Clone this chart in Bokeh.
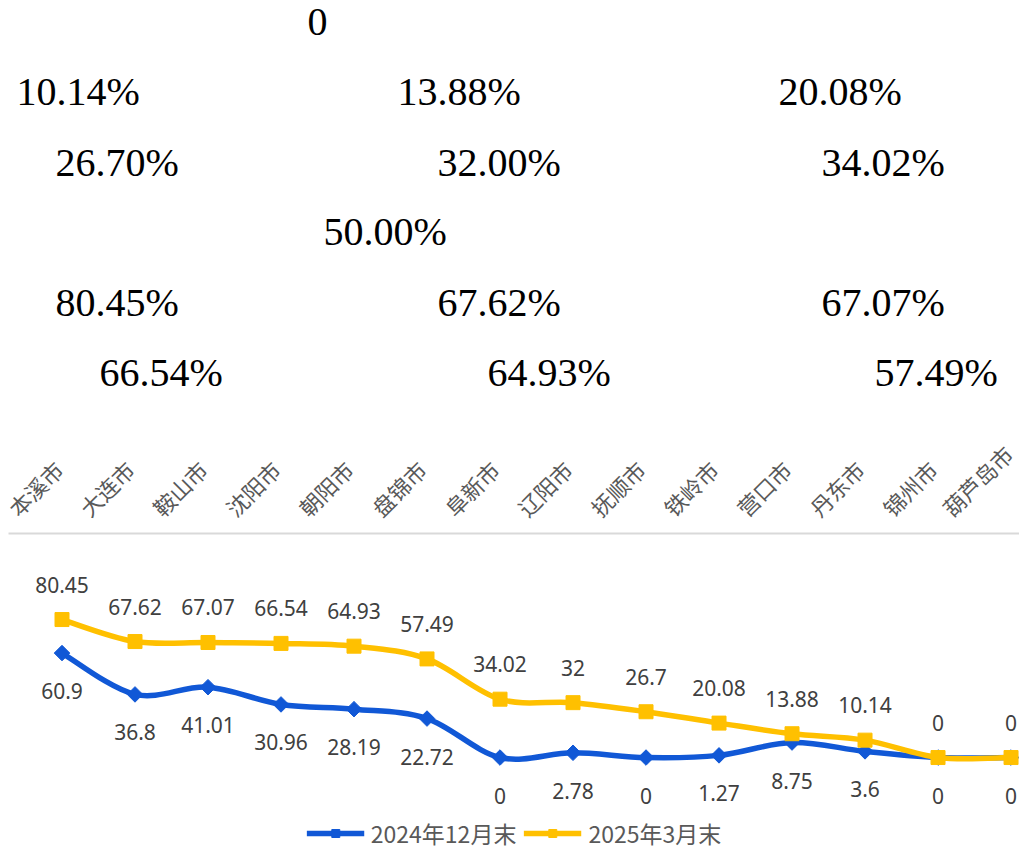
import math
from bokeh.plotting import figure
from bokeh.layouts import column
from bokeh.models import Range1d, FixedTicker, LinearAxis, Legend, LegendItem
from bokeh.core.properties import value
from bokeh.embed import file_html
from bokeh.resources import INLINE

# ---------------- data ----------------
cities = ["本溪市", "大连市", "鞍山市", "沈阳市", "朝阳市", "盘锦市", "阜新市",
          "辽阳市", "抚顺市", "铁岭市", "营口市", "丹东市", "锦州市", "葫芦岛市"]
dec2024 = [60.9, 36.8, 41.01, 30.96, 28.19, 22.72, 0, 2.78, 0, 1.27, 8.75, 3.6, 0, 0]
mar2025 = [80.45, 67.62, 67.07, 66.54, 64.93, 57.49, 34.02, 32, 26.7, 20.08, 13.88, 10.14, 0, 0]
series_names = ["2024年12月末", "2025年3月末"]
stray_texts = ["0", "10.14%", "13.88%", "20.08%", "26.70%", "32.00%", "34.02%",
               "50.00%", "80.45%", "67.62%", "67.07%", "66.54%", "64.93%", "57.49%"]

# ---------------- layout (pixels) ----------------
stray_x = [307, 16, 397, 778, 55, 437, 821, 323, 55, 437, 821, 99, 487, 874]
stray_y = [34, 104, 104, 104, 175, 175, 175, 244, 315, 315, 315, 385, 385, 385]

W = 1019
TOP_H = 420
BOT_H = 435
BLUE = "#1158d6"
GOLD = "#ffc000"
TXT = "#404040"

idx = list(range(len(cities)))

# ---------- top block: stray percentage texts ----------
top = figure(width=W, height=TOP_H, output_backend="svg", toolbar_location=None,
             x_range=Range1d(8, W), y_range=Range1d(TOP_H, 0),
             min_border=0, min_border_left=8, x_axis_location=None, y_axis_location=None)
top.grid.visible = False
top.outline_line_color = None
top.text(stray_x, stray_y, text=stray_texts, text_align="left", text_baseline="alphabetic",
         y_offset=-13, text_font=value("Liberation Serif"), text_font_size="40px",
         text_color="black")

# ---------- chart ----------
p = figure(width=W, height=BOT_H, output_backend="svg", toolbar_location=None,
           x_range=Range1d(-0.7329, 13.116), y_range=Range1d(-57.1, 130.6),
           min_border_left=8, min_border_right=0, min_border_top=113, min_border_bottom=0,
           x_axis_location=None, y_axis_location=None)
p.grid.visible = False
p.outline_line_color = None

shift = 0.71
p.extra_x_ranges = {"lab": Range1d(-0.7329 + shift, 13.116 + shift)}
ax = LinearAxis(x_range_name="lab", ticker=FixedTicker(ticks=idx),
                major_label_overrides={i: c for i, c in enumerate(cities)},
                major_label_orientation=math.pi / 4,
                major_tick_line_color=None, minor_tick_line_color=None,
                major_tick_out=0, major_tick_in=0, major_label_standoff=22,
                axis_line_color="#d9d9d9", axis_line_width=2,
                major_label_text_font="Noto Sans CJK SC",
                major_label_text_font_size="22px",
                major_label_text_color="#595959")
p.add_layout(ax, "above")


def bez(vals):
    n = len(vals)
    out = {k: [] for k in ("x0", "y0", "x1", "y1", "cx0", "cy0", "cx1", "cy1")}
    for i in range(n - 1):
        im1 = max(i - 1, 0)
        ip2 = min(i + 2, n - 1)
        out["x0"].append(i); out["y0"].append(vals[i])
        out["x1"].append(i + 1); out["y1"].append(vals[i + 1])
        out["cx0"].append(i + (i + 1 - im1) / 6.0)
        out["cy0"].append(vals[i] + (vals[i + 1] - vals[im1]) / 6.0)
        out["cx1"].append(i + 1 - (ip2 - i) / 6.0)
        out["cy1"].append(vals[i + 1] - (vals[ip2] - vals[i]) / 6.0)
    return out


b_line = p.bezier(line_color=BLUE, line_width=5.5, **bez(dec2024))
b_mark = p.scatter(idx, dec2024, marker="square", angle=math.pi / 4, size=11,
                   fill_color=BLUE, line_color=BLUE)
g_line = p.bezier(line_color=GOLD, line_width=5.5, **bez(mar2025))
g_mark = p.scatter(idx, mar2025, marker="square", size=14, fill_color=GOLD, line_color=GOLD)

p.text(idx, mar2025, text=[f"{v:g}" for v in mar2025], text_align="center",
       text_baseline="middle", y_offset=-35, text_font=value("Noto Sans"),
       text_font_size="21px", text_color=TXT)
p.text(idx, dec2024, text=[f"{v:g}" for v in dec2024], text_align="center",
       text_baseline="middle", y_offset=38, text_font=value("Noto Sans"),
       text_font_size="21px", text_color=TXT)

legend = Legend(items=[LegendItem(label=series_names[0], renderers=[b_line, b_mark]),
                       LegendItem(label=series_names[1], renderers=[g_line, g_mark])],
                location="bottom_center", orientation="horizontal",
                label_text_font="Noto Sans CJK SC", label_text_font_size="23px",
                label_text_color="#595959", glyph_width=58, glyph_height=20,
                padding=2, margin=5, spacing=7, label_standoff=7,
                border_line_color=None, background_fill_alpha=0)
p.add_layout(legend)

layout = column(top, p, spacing=0)
open("out.html", "w").write(file_html(layout, INLINE))
